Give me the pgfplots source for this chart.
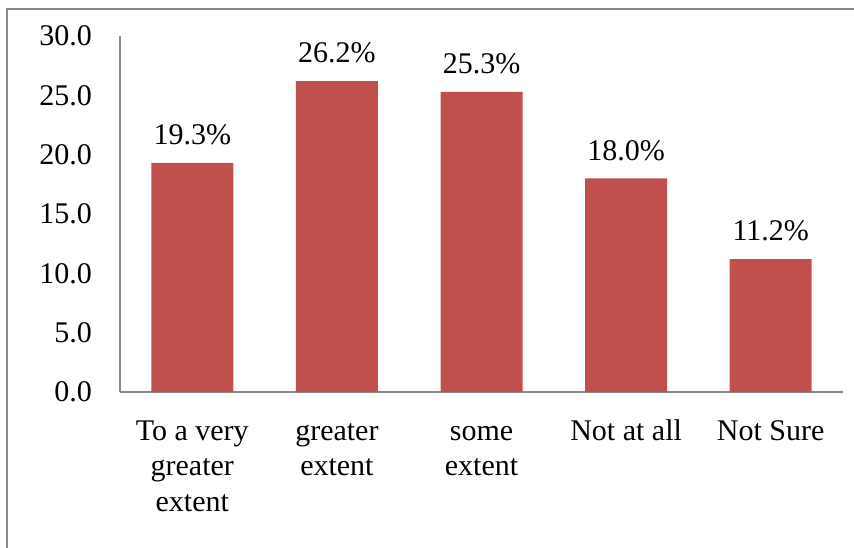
\documentclass[border=0pt]{standalone}
\usepackage{pgfplots}
\pgfplotsset{compat=1.18}
\usepackage{fontspec}
\setmainfont{Liberation Serif}
\definecolor{barred}{HTML}{C0504D}
\definecolor{axgray}{HTML}{898989}
\begin{document}
\begin{tikzpicture}[x=1pt,y=1pt]
\useasboundingbox (0,0) rectangle (854,548);
\draw[axgray,line width=1.5pt] (7,-20) -- (7,539) -- (880,539);
\begin{axis}[
  at={(120pt,156pt)}, anchor=south west,
  scale only axis, width=723pt, height=356pt,
  xmin=-0.5, xmax=4.5, ymin=0, ymax=30,
  axis lines*=left,
  axis line style={axgray, line width=1.2pt, -},
  major tick length=0pt,
  ytick={0,5,10,15,20,25,30},
  /pgf/number format/.cd, fixed, fixed zerofill, precision=1, assume math mode=true, /pgfplots/.cd,
  every y tick label/.style={font=\fontsize{30}{36}\selectfont, inner sep=0pt, anchor=east, xshift=-28pt},
  xtick={0,1,2,3,4},
  xticklabels={{\strut To a very\\greater\\extent},{\strut greater\\extent},{\strut some\\extent},{\strut Not at all},{\strut Not Sure}},
  every x tick label/.style={font=\fontsize{30}{35.5}\selectfont, align=center, inner sep=0pt, anchor=north, yshift=-23pt},
  ybar, bar width=82pt,
  nodes near coords={\pgfmathprintnumber[fixed,fixed zerofill,precision=1,assume math mode=true]{\pgfplotspointmeta}\%},
  every node near coord/.append style={font=\fontsize{30}{36}\selectfont, inner sep=0pt, anchor=south, yshift=17.5pt, black},
  clip=false,
]
\addplot[fill=barred, draw=none] coordinates {(0,19.3) (1,26.2) (2,25.3) (3,18.0) (4,11.2)};
\end{axis}
\end{tikzpicture}
\end{document}
